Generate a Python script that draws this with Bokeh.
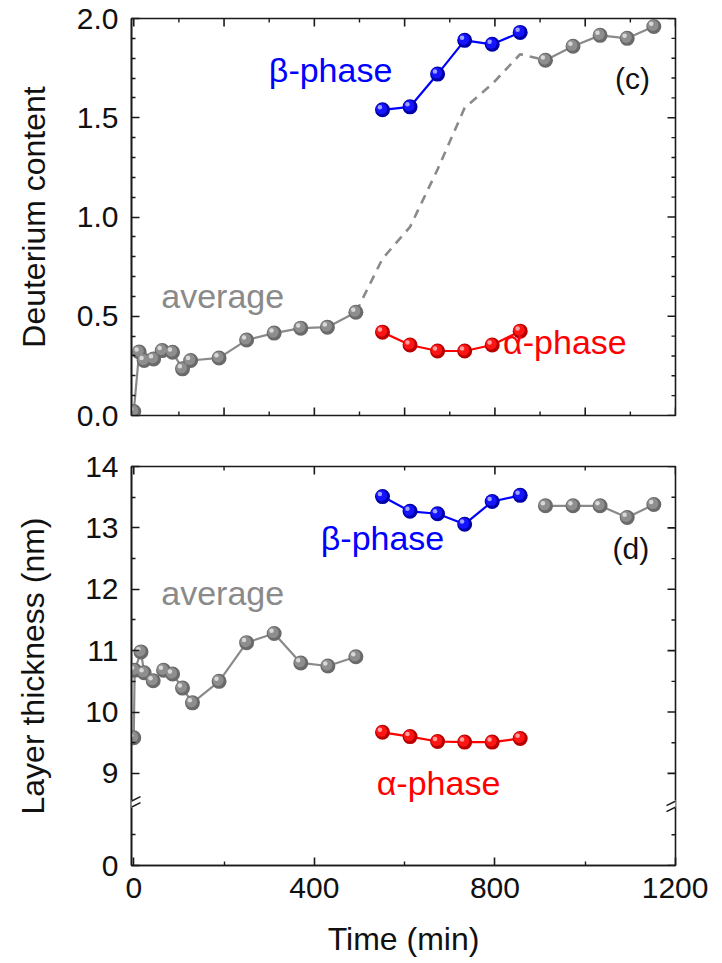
import numpy as np
from bokeh.plotting import figure
from bokeh.layouts import column
from bokeh.models import Range1d, FixedTicker, Arrow, Label
from bokeh.embed import file_html
from bokeh.resources import INLINE

# ---------------- data ----------------
# Panel (c): deuterium content
t_avg_early = [0, 12, 23, 44, 63, 86, 108, 126, 189, 250, 311, 370, 429, 492]
d_avg_early = [0.02, 0.32, 0.277, 0.285, 0.327, 0.319, 0.235, 0.277, 0.29, 0.38, 0.415, 0.44, 0.445, 0.52]
t_phase = [551, 612, 673, 733, 794, 856]
d_beta = [1.54, 1.555, 1.72, 1.89, 1.87, 1.93]
d_alpha = [0.42, 0.355, 0.325, 0.325, 0.355, 0.425]
t_dash = [492, 551, 612, 673, 733, 794, 856, 912]
d_dash = [0.52, 0.79, 0.95, 1.24, 1.55, 1.67, 1.82, 1.79]
t_avg_late = [912, 973, 1033, 1093, 1152]
d_avg_late = [1.79, 1.86, 1.915, 1.90, 1.96]

# Panel (d): layer thickness (nm)
t_thk_early = [0, 2, 16, 23, 43, 66, 86, 108, 130, 189, 250, 311, 370, 430, 492]
thk_avg_early = [9.58, 10.68, 10.98, 10.64, 10.51, 10.68, 10.62, 10.39, 10.15, 10.50, 11.13, 11.28, 10.80, 10.75, 10.90]
thk_beta = [13.51, 13.27, 13.23, 13.06, 13.43, 13.53]
thk_alpha = [9.67, 9.60, 9.52, 9.51, 9.51, 9.57]
t_thk_late = [912, 973, 1033, 1093, 1152]
thk_avg_late = [13.36, 13.36, 13.36, 13.17, 13.38]

time_ticks_major = [0, 400, 800, 1200]
time_ticks_minor = [200, 600, 1000]
time_ticks_c_major = [0, 200, 400, 600, 800, 1000, 1200]
time_ticks_c_minor = [100, 300, 500, 700, 900, 1100]
d_ticks = [0.0, 0.5, 1.0, 1.5, 2.0]
d_minor = [0.1, 0.2, 0.3, 0.4, 0.6, 0.7, 0.8, 0.9, 1.1, 1.2, 1.3, 1.4, 1.6, 1.7, 1.8, 1.9]
thk_ticks = [0, 9, 10, 11, 12, 13, 14]
thk_minor = [0.5, 9.5, 10.5, 11.5, 12.5, 13.5]

# broken axis: values below the break are shifted up
BREAK = 8.5
SHIFT = 7.5


def disp(v):
    return v if v >= BREAK else v + SHIFT


FONT = "Liberation Sans"
GRAY, BLUE, RED = "#8a8a8a", "#0000ff", "#ff0000"
AX = "#1a1a1a"

X0, X1 = -5, 1200
W = 708
ML, MR = 131, 33
FW = W - ML - MR
TMAJ, TMIN = 8, 4


def style_axis(ax, ticks, minor):
    ax.ticker = FixedTicker(ticks=ticks, minor_ticks=minor)
    ax.major_tick_in = TMAJ
    ax.major_tick_out = 0
    ax.minor_tick_in = TMIN
    ax.minor_tick_out = 0
    ax.axis_line_width = 1.6
    ax.axis_line_color = AX
    ax.major_tick_line_width = 1.6
    ax.major_tick_line_color = AX
    ax.minor_tick_line_width = 1.4
    ax.minor_tick_line_color = AX
    ax.major_label_text_font = FONT
    ax.major_label_text_font_size = "30px"
    ax.axis_label_text_font = FONT
    ax.axis_label_text_font_style = "normal"
    ax.axis_label_text_font_size = "32px"
    ax.axis_label_text_color = "#111111"
    ax.major_label_text_color = "#111111"


def frame_ticks_x(p, major, minor, yedge, direction, sy):
    for ticks, L, w in ((major, TMAJ, 1.6), (minor, TMIN, 1.4)):
        n = len(ticks)
        p.segment(x0=ticks, y0=[yedge] * n, x1=ticks, y1=[yedge + direction * L * sy] * n,
                  line_color=AX, line_width=w)


def frame_ticks_y(p, major, minor, xedge, direction, sx):
    for ticks, L, w in ((major, TMAJ, 1.6), (minor, TMIN, 1.4)):
        n = len(ticks)
        p.segment(x0=[xedge] * n, y0=ticks, x1=[xedge + direction * L * sx] * n, y1=ticks,
                  line_color=AX, line_width=w)


def spheres(p, x, y, base, mid, hi, sx, sy, size=15):
    x = np.asarray(x, float)
    y = np.asarray(y, float)
    p.scatter(x, y, size=size, fill_color=base, line_color=None)
    p.scatter(x - 1.0 * sx, y + 1.0 * sy, size=size * 0.74, fill_color=mid, line_color=None)
    p.scatter(x - 2.6 * sx, y + 2.6 * sy, size=size * 0.3, fill_color=hi, line_color=None, fill_alpha=0.95)


def sph_gray(p, x, y, sx, sy):
    spheres(p, x, y, "#6a6a6a", "#8e8e8e", "#dcdcdc", sx, sy)


def sph_blue(p, x, y, sx, sy):
    spheres(p, x, y, "#0000a8", "#1414ff", "#a8a8ff", sx, sy)


def sph_red(p, x, y, sx, sy):
    spheres(p, x, y, "#b80000", "#ff1414", "#ffa8a8", sx, sy)


def label(p, x, y, text, color, size="34px"):
    p.add_layout(Label(x=x, y=y, text=text, text_color=color, text_font=FONT,
                       text_font_size=size, text_align="center", text_baseline="middle"))


# ---------------- panel (c) ----------------
H1, MT1, MB1 = 440, 18, 25
sx = (X1 - X0) / FW
sy1 = 2.0 / (H1 - MT1 - MB1)

p1 = figure(width=W, height=H1, x_range=Range1d(X0, X1), y_range=Range1d(0, 2.0),
            output_backend="svg", toolbar_location=None,
            min_border_left=ML, min_border_right=MR, min_border_top=MT1, min_border_bottom=MB1)
p1.outline_line_color = AX
p1.outline_line_width = 1.6
p1.xgrid.grid_line_color = None
p1.ygrid.grid_line_color = None
p1.xaxis.visible = False
style_axis(p1.yaxis[0], d_ticks, d_minor)
p1.yaxis[0].major_label_overrides = {v: f"{v:.1f}" for v in d_ticks}
p1.yaxis[0].axis_label = "Deuterium content"
p1.yaxis[0].major_label_standoff = 13
p1.yaxis[0].axis_label_standoff = 22
frame_ticks_x(p1, time_ticks_c_major, time_ticks_c_minor, 0.0, 1, sy1)
frame_ticks_x(p1, time_ticks_c_major, time_ticks_c_minor, 2.0, -1, sy1)
frame_ticks_y(p1, d_ticks, d_minor, X1, -1, sx)

p1.line(t_dash, d_dash, line_color=GRAY, line_width=2.6, line_dash="9 7")
p1.line(t_avg_early, d_avg_early, line_color=GRAY, line_width=2.2)
p1.line(t_avg_late, d_avg_late, line_color=GRAY, line_width=2.2)
p1.line(t_phase, d_beta, line_color=BLUE, line_width=2.2)
p1.line(t_phase, d_alpha, line_color=RED, line_width=2.2)
sph_gray(p1, t_avg_early, d_avg_early, sx, sy1)
sph_gray(p1, t_avg_late, d_avg_late, sx, sy1)
sph_blue(p1, t_phase, d_beta, sx, sy1)
sph_red(p1, t_phase, d_alpha, sx, sy1)

label(p1, 436, 1.74, "β-phase", BLUE)
label(p1, 197, 0.60, "average", GRAY)
label(p1, 955, 0.37, "α-phase", RED)
label(p1, 1105, 1.70, "(c)", "#111111", "30px")

# ---------------- panel (d) ----------------
H2, MT2, MB2 = 521, 26, 96
sy2 = (14 - SHIFT) / (H2 - MT2 - MB2)

p2 = figure(width=W, height=H2, x_range=Range1d(X0, X1), y_range=Range1d(SHIFT, 14),
            output_backend="svg", toolbar_location=None,
            min_border_left=ML, min_border_right=MR, min_border_top=MT2, min_border_bottom=MB2)
p2.outline_line_color = AX
p2.outline_line_width = 1.6
p2.xgrid.grid_line_color = None
p2.ygrid.grid_line_color = None
style_axis(p2.xaxis[0], time_ticks_major, time_ticks_minor)
p2.xaxis[0].axis_label = "Time (min)"
p2.xaxis[0].major_label_standoff = 12
p2.xaxis[0].axis_label_standoff = 20

yt = [disp(v) for v in thk_ticks]
ym = [disp(v) for v in thk_minor]
style_axis(p2.yaxis[0], yt, ym)
p2.yaxis[0].major_label_overrides = {d: str(v) for d, v in zip(yt, thk_ticks)}
p2.yaxis[0].axis_label = "Layer thickness (nm)"
p2.yaxis[0].major_label_standoff = 13
p2.yaxis[0].axis_label_standoff = 31
frame_ticks_x(p2, time_ticks_major, time_ticks_minor, 14, -1, sy2)
frame_ticks_y(p2, yt, ym, X1, -1, sx)

thk_e = [disp(v) for v in thk_avg_early]
thk_l = [disp(v) for v in thk_avg_late]
thk_b = [disp(v) for v in thk_beta]
thk_a = [disp(v) for v in thk_alpha]
p2.line(t_thk_early, thk_e, line_color=GRAY, line_width=2.2)
p2.line(t_thk_late, thk_l, line_color=GRAY, line_width=2.2)
p2.line(t_phase, thk_b, line_color=BLUE, line_width=2.2)
p2.line(t_phase, thk_a, line_color=RED, line_width=2.2)
sph_gray(p2, t_thk_early, thk_e, sx, sy2)
sph_gray(p2, t_thk_late, thk_l, sx, sy2)
sph_blue(p2, t_phase, thk_b, sx, sy2)
sph_red(p2, t_phase, thk_a, sx, sy2)

label(p2, 551, 12.84, "β-phase", BLUE)
label(p2, 197, 11.94, "average", GRAY)
label(p2, 675, 8.84, "α-phase", RED)
label(p2, 1101, 12.66, "(d)", "#111111", "30px")

# axis-break marks on both vertical axes
for xb in (X0, X1):
    p2.add_layout(Arrow(end=None, x_start=xb, y_start=BREAK - 4 * sy2, x_end=xb, y_end=BREAK + 4 * sy2,
                        line_color="white", line_width=6))
    for d in (-3, 3):
        p2.add_layout(Arrow(end=None, x_start=xb - 9 * sx, y_start=BREAK + (d - 4.5) * sy2,
                            x_end=xb + 9 * sx, y_end=BREAK + (d + 4.5) * sy2,
                            line_color=AX, line_width=1.5))

layout = column(p1, p2)
open("out.html", "w").write(file_html(layout, INLINE))
